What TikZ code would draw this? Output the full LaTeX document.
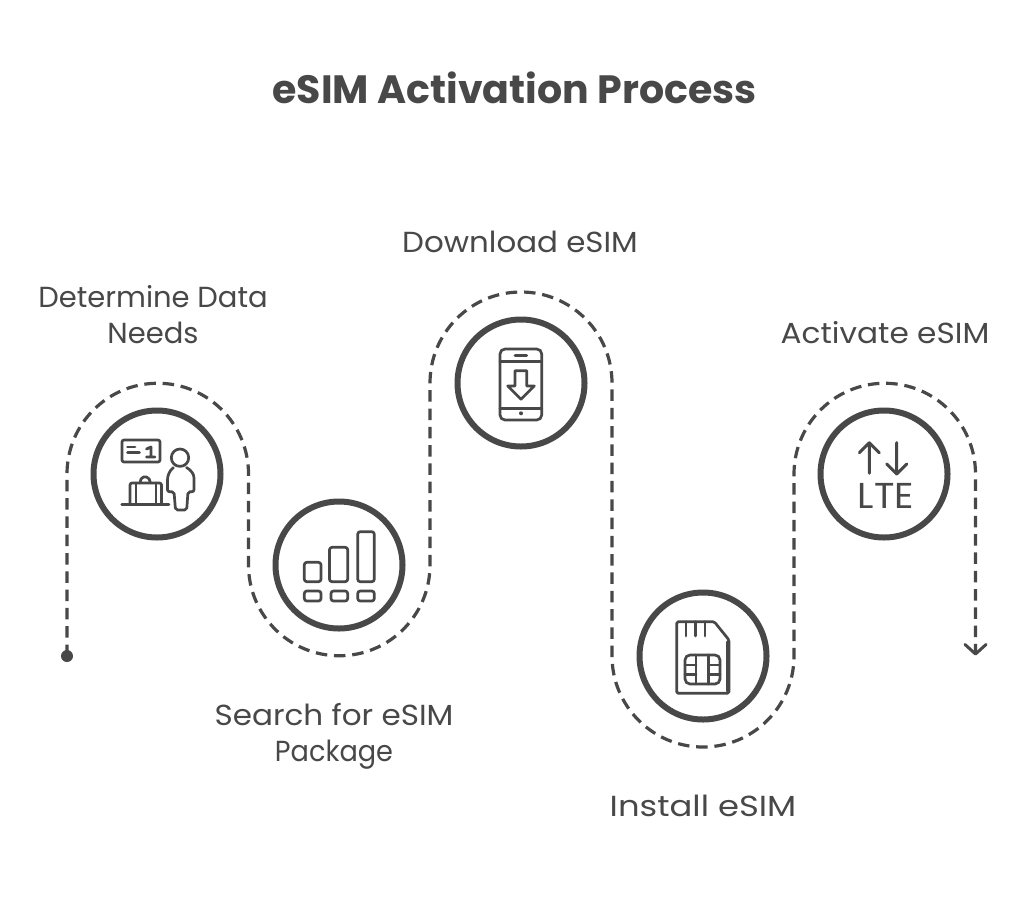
\documentclass[tikz,border=0pt]{standalone}
\usepackage{fontspec}
\setmainfont{Poppins}
\usetikzlibrary{calc}
\definecolor{ink}{HTML}{484848}
\tikzset{
  x=1pt,y=-1pt,
  route/.style={draw=ink,line width=3.2pt,dash pattern=on 11.5pt off 6.8pt},
  ring/.style={circle,draw=ink,line width=6pt,minimum size=127pt,inner sep=0pt},
  glyph/.style={draw=ink,line width=2.7pt,line cap=round,line join=round},
  label/.style={text=ink,align=center,font=\fontsize{29}{36}\selectfont,inner sep=0pt},
  headline/.style={text=ink,font=\fontsize{39.5}{42}\selectfont\bfseries,inner sep=0pt}
}
\begin{document}
\begin{tikzpicture}
\useasboundingbox[fill=white] (0,0) rectangle (1024,897);
\node[headline] (title) at (514.5,88) {eSIM Activation Process};
\node[label,xscale=1.0] (t1) at (153,315) {Determine Data\\Needs};
\node[label,xscale=1.07] (t2) at (334,736.5) {Search for eSIM\\\scalebox{.875}[1]{Package}};
\node[label,xscale=1.065] (t3) at (520,242) {Download eSIM};
\node[label,xscale=1.165] (t4) at (703,806) {Install eSIM};
\node[label,xscale=1.075] (t5) at (885,333) {Activate eSIM};
\coordinate (start) at (67,656);
\coordinate (finish) at (975.5,654);
\path[route] (start) -- (67,474) arc[start angle=180,end angle=360,radius=90.75]
  -- (248.5,565) arc[start angle=180,end angle=0,radius=90.75]
  -- (430,383) arc[start angle=180,end angle=360,radius=91]
  -- (612,656) arc[start angle=180,end angle=0,radius=91]
  -- (794,474) arc[start angle=180,end angle=360,radius=90.75]
  -- (finish);
\fill[ink] (start) circle[radius=6];
\draw[glyph,line width=3pt] (965,644.5) -- (finish) -- (986,644.5);
\node[ring] (c1) at (157,474) {};
\node[ring] (c2) at (339,565) {};
\node[ring] (c3) at (521,383) {};
\node[ring] (c4) at (703,656) {};
\node[ring] (c5) at (884,474) {};
% person
\draw[glyph,rounded corners=2pt] (122,440) rectangle (160,462);
\draw[glyph] (127.5,447) -- (135,447) (127.5,452.7) -- (139.5,452.7);
\draw[glyph,line width=2.8pt] (146.5,449) -- (151,447) -- (151,457) (146.5,457) -- (155,457);
\draw[glyph] (180,457.7) circle[radius=8.7];
\draw[glyph,rounded corners=2pt] (173.5,467.5) .. controls (169,471) and (167.5,476) .. (167.5,482) -- (167.5,491.7) -- (174,491.7) -- (175.5,510) -- (186.7,510) -- (188,491.7) -- (194,491.7) -- (194,480) .. controls (194,474) and (191,470) .. (186.5,467.5);
\draw[glyph] (121.7,504.3) -- (169,504.3);
\draw[glyph,rounded corners=2pt] (130,504) -- (130,483) -- (161.5,483) -- (161.5,504);
\draw[glyph] (136,483) -- (136,504) (156,483) -- (156,504);
\draw[glyph,rounded corners=2pt] (140,483) -- (141.5,477) -- (148.5,477) -- (150.5,483);
% bars
\draw[glyph,rounded corners=2.5pt] (304.3,562.3) rectangle (321,581.7);
\draw[glyph,rounded corners=2.5pt] (329.5,547.3) rectangle (347.7,581.7);
\draw[glyph,rounded corners=2.5pt] (357.7,531.7) rectangle (374.3,581.7);
\draw[glyph,rounded corners=2.5pt] (304.3,591) rectangle (321,601);
\draw[glyph,rounded corners=2.5pt] (331,591) rectangle (347.7,601);
\draw[glyph,rounded corners=2.5pt] (357.7,591) rectangle (374.3,601);
% phone
\draw[glyph,rounded corners=5pt] (500,349) rectangle (541.7,420);
\draw[glyph] (500,361.7) -- (541.7,361.7) (500,408.3) -- (541.7,408.3) (515,355.7) -- (526.7,355.7);
\fill[ink] (521,413.3) circle[radius=2];
\draw[glyph] (515,370.7) -- (526.7,370.7) -- (526.7,386) -- (534.3,386) -- (521,399.3) -- (507.7,386) -- (515,386) -- cycle;
% sim
\draw[glyph,rounded corners=1.5pt] (676.7,621.7) -- (714.3,621.7) -- (729,640) -- (729,693.3) -- (676.7,693.3) -- cycle;
\draw[glyph] (686,621.7) -- (686,636) (695.7,621.7) -- (695.7,636) (705,621.7) -- (705,636);
\draw[glyph,line width=3.5pt] (727.5,642) -- (727.5,691);
\draw[glyph,rounded corners=5pt] (685,655) rectangle (720,684);
\draw[glyph] (696,655) -- (696,684) (708.3,655) -- (708.3,684) (685,665) -- (696,665) (685,674.3) -- (696,674.3) (708.3,665) -- (720,665) (708.3,674.3) -- (720,674.3);
% lte
\draw[glyph,line width=3pt] (869.3,473.3) -- (869.3,442.7) (859.3,452.7) -- (869.3,442.7) -- (879.3,452.7);
\draw[glyph,line width=3pt] (896.7,442.7) -- (896.7,474) (886.7,464) -- (896.7,474) -- (906.7,464);
\node[text=ink,inner sep=0pt,font=\fontsize{36}{36}\selectfont,xscale=1.05] (lte) at (886,496) {LTE};
\end{tikzpicture}
\end{document}
